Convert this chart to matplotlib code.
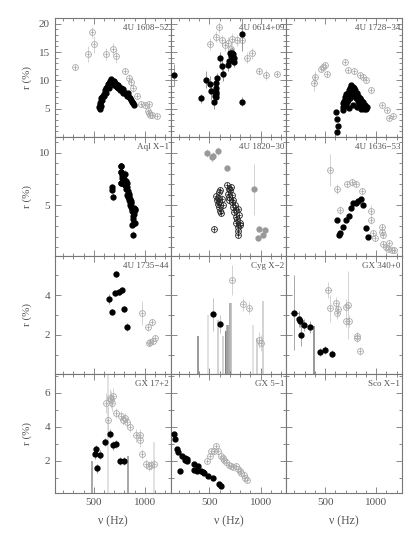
import numpy as np
import matplotlib
matplotlib.use("Agg")
import matplotlib.pyplot as plt
from matplotlib.ticker import MultipleLocator

plt.rcParams['font.family'] = ['Liberation Serif', 'DejaVu Serif']

names = ["4U 1608\u221252", "4U 0614+09", "4U 1728\u221234",
         "Aql X\u22121", "4U 1820\u221230", "4U 1636\u221253",
         "4U 1735\u221244", "Cyg X\u22122", "GX 340+0",
         "GX 17+2", "GX 5\u22121", "Sco X\u22121"]

# 4U 1608-52
f1608_x = [555, 560, 563, 565, 570, 572, 575, 580, 585, 590, 595, 600, 610, 615, 620, 630, 640, 645, 650, 660,
           670, 675, 680, 690, 695, 700, 710, 715, 720, 725, 735, 740, 750, 760, 765, 775, 785, 790, 800, 810,
           820, 830, 840, 850, 860, 870, 880, 890]
f1608_y = [5.2, 5.0, 5.6, 5.9, 6.3, 5.5, 6.8, 6.6, 7.0, 7.3, 7.2, 7.6, 8.2, 7.8, 8.7, 8.9, 9.3, 8.6, 9.6, 9.9,
           10.2, 9.7, 9.9, 9.5, 9.9, 9.2, 9.6, 9.0, 9.4, 8.8, 9.1, 8.6, 8.9, 8.3, 8.7, 8.1, 8.5, 7.8, 8.0, 7.6,
           7.3, 7.7, 7.0, 6.8, 6.5, 6.2, 5.9, 5.6]
o1608_x = [315, 478, 498, 445, 624, 683, 722, 806, 846, 862, 888, 924, 960, 999, 1035, 1032, 1040, 1050, 1070, 1116]
o1608_y = [12.3, 18.5, 16.35, 14.6, 14.65, 15.5, 14.3, 11.65, 10.35, 9.65, 8.65, 7.2, 5.8, 5.65, 5.8, 4.6, 4.2,
           3.9, 3.9, 3.7]
o1608_e = [0.4, 1.0, 1.5, 1.4, 1.0, 1.1, 1.2, 0.5, 0.8, 0.7, 0.7, 0.4, 0.4, 0.4, 0.6, 0.4, 0.3, 0.3, 0.3, 0.3]

# 4U 0614+09
f0614_x = [152, 413, 469, 501, 520, 543, 550, 562, 560, 565, 568, 568, 570, 605, 621, 635, 677, 690, 703, 712,
           718, 725, 732, 740, 736, 816, 820]
f0614_y = [10.94, 6.83, 10.06, 9.35, 8.1, 6.2, 7.3, 7.53, 7.06, 7.88, 8.59, 9.58, 10.35, 13.94, 12.6, 11.1, 12.7,
           13.5, 14.77, 14.3, 14.9, 14.2, 14.7, 13.9, 13.3, 18.18, 6.23]
f0614_e = [2.0, 0.8, 1.5, 1.5, 1.5, 1.3, 1.2, 1.0, 1.0, 1.0, 1.0, 1.0, 1.0, 1.0, 1.0, 1.2, 1.0, 1.0, 1.0, 1.0,
           1.0, 1.0, 1.0, 1.0, 1.0, 3.0, 0.8]
o0614_x = [508, 566, 598, 624, 652, 679, 720, 769, 816, 711, 865, 918, 989, 1054, 1161]
o0614_y = [16.4, 17.7, 19.35, 17.06, 16.24, 16.6, 17.3, 17.06, 17.2, 15.47, 14.0, 14.77, 11.65, 10.94, 11.1]
o0614_e = [1.0, 1.0, 1.0, 1.0, 1.0, 1.0, 1.0, 1.0, 1.0, 1.0, 1.0, 1.0, 0.6, 0.8, 0.4]

# 4U 1728-34
f1728_x = [607, 617, 630, 614, 672, 675, 680, 685, 690, 695, 700, 705, 708, 712, 715, 720, 725, 728, 732, 736,
           740, 745, 748, 752, 757, 760, 763, 767, 770, 774, 778, 782, 786, 790, 795, 800, 805, 810, 815, 820,
           825, 830, 835, 840, 845, 850, 855, 860, 866, 872, 878, 884, 890, 896, 902, 906, 730, 770, 810, 850]
f1728_y = [4.47, 3.1, 1.9, 0.94, 5.9, 5.2, 4.8, 6.3, 5.6, 7.0, 6.4, 5.5, 7.5, 6.9, 6.1, 7.8, 7.2, 6.5, 8.2, 7.6,
           6.8, 8.6, 7.9, 7.2, 9.2, 8.7, 8.1, 7.5, 8.9, 8.4, 7.7, 8.6, 7.9, 7.2, 8.2, 7.5, 6.9, 7.8, 7.0, 6.3,
           7.3, 6.7, 5.9, 6.9, 6.2, 5.5, 6.5, 5.8, 5.2, 6.1, 5.4, 5.0, 5.7, 5.1, 4.9, 5.3, 5.1, 5.6, 5.3, 4.9]
o1728_x = [387, 400, 462, 484, 498, 520, 693, 728, 787, 846, 875, 901, 947, 1054, 1103, 1129, 1162]
o1728_y = [9.58, 10.53, 12.0, 12.4, 12.76, 11.1, 13.3, 11.77, 11.6, 10.94, 10.53, 10.06, 8.3, 5.6, 4.77, 3.35, 3.7]
o1728_e = [1.4, 1.2, 0.5, 0.5, 0.5, 0.5, 0.4, 0.4, 0.4, 0.4, 0.4, 0.4, 0.4, 0.4, 0.4, 0.3, 0.3]

# Aql X-1
faql_x = [677, 677, 683, 764, 770, 764, 765, 768, 770, 775, 780, 783, 790, 795, 800, 805, 808, 812, 815, 820,
          825, 828, 832, 835, 840, 842, 848, 850, 855, 858, 862, 865, 868, 872, 876, 880, 884, 888, 892, 896,
          900, 905, 875, 885, 898, 880]
faql_y = [6.68, 6.42, 5.78, 8.75, 8.17, 7.12, 8.7, 8.2, 7.1, 7.6, 7.9, 7.3, 7.8, 7.0, 7.5, 8.0, 6.9, 7.3, 6.5, 7.1,
          6.7, 6.0, 6.3, 5.8, 6.1, 5.5, 5.9, 5.3, 5.6, 5.0, 5.4, 4.8, 5.2, 4.4, 4.6, 4.0, 4.5, 3.7, 4.2, 4.7,
          4.5, 4.6, 3.1, 3.2, 3.3, 2.2]

# 4U 1820-30
g1820_x = [478, 524, 535, 582, 673, 933, 989, 1021, 1045, 979]
g1820_y = [9.94, 9.55, 9.68, 10.16, 8.56, 6.49, 2.75, 2.18, 2.59, 1.86]
g1820_e = [0.4, 0.4, 0.4, 0.4, 0.3, 2.4, 0.3, 0.3, 0.3, 0.3]
k1820_x = [566, 576, 582, 592, 605, 615, 598, 608, 624, 582, 631, 598,
           670, 690, 703, 713, 680, 696, 722, 690, 716, 735, 729, 748, 745, 761, 777, 755, 771, 787,
           761, 794, 777, 784, 777, 800, 543]
k1820_y = [5.88, 5.46, 5.14, 4.82, 4.41, 4.25, 6.26, 6.42, 5.62, 5.69, 4.98, 5.30,
           6.90, 6.58, 6.42, 6.74, 6.10, 5.78, 5.94, 5.46, 5.30, 5.46, 4.82, 4.98, 4.34, 4.50, 4.66, 3.86,
           3.70, 4.02, 3.32, 3.32, 2.90, 2.58, 2.20, 3.13, 2.69]

# 4U 1636-53
f1636_x = [615, 635, 648, 673, 700, 729, 755, 772, 798, 817, 853, 875, 901, 924]
f1636_y = [3.62, 2.19, 2.35, 2.91, 3.62, 3.97, 4.77, 5.22, 5.16, 5.38, 5.57, 5.03, 2.81, 2.0]
o1636_x = [547, 618, 650, 712, 761, 806, 858, 952, 952, 973, 992, 1054, 1060, 1062, 1070, 1093, 1126, 1113, 1152, 1175]
o1636_y = [8.34, 6.55, 4.51, 7.0, 7.16, 7.0, 6.36, 4.48, 3.62, 2.37, 1.92, 2.91, 2.4, 2.15, 1.32, 1.06, 1.38, 0.84,
           0.74, 0.74]
o1636_e = [1.5, 0.5, 0.4, 0.3, 0.3, 0.3, 0.3, 0.5, 0.4, 0.3, 0.3, 0.3, 0.3, 0.3, 0.3, 0.2, 0.2, 0.2, 0.2, 0.2]

# 4U 1735-44
f1735_x = [722, 644, 677, 706, 748, 777, 800, 823]
f1735_y = [5.08, 3.82, 3.17, 4.1, 4.17, 4.27, 3.28, 2.37]
f1735_e = [0.15, 0.25, 0.15, 0.15, 0.15, 0.15, 0.15, 0.2]
o1735_x = [976, 1031, 1068, 1040, 1050, 1083, 1103]
o1735_y = [3.08, 2.37, 2.63, 1.58, 1.65, 1.67, 1.83]
o1735_e = [0.6, 0.2, 0.15, 0.15, 0.15, 0.15, 0.15]

# Cyg X-2
fcyg_x = [537, 605]
fcyg_y = [3.03, 2.53]
fcyg_e = [0.85, 0.45]
ocyg_x = [720, 827, 883, 985, 1008]
ocyg_y = [4.78, 3.53, 3.33, 1.75, 1.58]
ocyg_e = [0.75, 0.35, 0.3, 0.4, 0.4]
lcyg_x = [387, 490, 585, 634, 663, 673, 683, 697, 705, 713, 924, 963, 1022]
lcyg_y = [1.92, 3.0, 2.72, 1.92, 2.2, 2.5, 2.5, 3.6, 3.6, 3.6, 2.5, 1.83, 3.7]
lcyg_c = ['#888888', '#dddddd', '#cccccc', '#cccccc', '#666666', '#aaaaaa', '#999999',
          '#bbbbbb', '#aaaaaa', '#bbbbbb', '#dddddd', '#cccccc', '#cccccc']

# GX 340+0
f340_x = [201, 247, 257, 267, 299, 354, 455, 501, 569]
f340_y = [3.12, 2.78, 2.67, 1.97, 2.5, 2.38, 1.13, 1.25, 1.05]
f340_e = [1.9, 0.4, 0.3, 0.55, 0.3, 0.3, 0.2, 0.2, 0.2]
o340_x = [533, 553, 605, 625, 615, 706, 722, 700, 732, 810, 816, 843]
o340_y = [4.25, 3.33, 3.62, 3.3, 3.08, 3.42, 3.5, 2.7, 2.7, 1.95, 1.83, 1.17]
o340_e = [0.4, 0.7, 0.3, 0.3, 0.3, 0.4, 1.7, 0.3, 0.3, 0.2, 0.2, 0.2]
l340_x = [387]
l340_y = [2.42]
l340_c = ['#888888']

# GX 17+2
f17_x = [520, 510, 559, 533, 608, 657, 690, 715, 755, 797]
f17_y = [2.69, 2.38, 2.37, 1.56, 3.11, 3.6, 2.91, 3.0, 2.0, 2.0]
o17_x = [621, 641, 657, 665, 675, 686, 722, 764, 787, 806, 826, 852, 917, 950, 956, 976, 1015, 1037, 1063, 1089]
o17_y = [5.42, 4.39, 5.72, 5.62, 5.42, 5.82, 4.83, 4.63, 4.39, 4.53, 4.29, 4.0, 3.5, 3.5, 3.2, 2.4, 1.8, 1.7,
         1.76, 1.8]
o17_e = [0.6, 0.8, 0.5, 0.5, 0.5, 0.5, 0.3, 0.3, 0.3, 0.3, 0.3, 0.3, 0.4, 0.4, 0.4, 0.3, 0.3, 0.3, 0.3, 0.3]
l17_x = [478, 641, 830, 1085]
l17_y = [2.0, 7.1, 2.3, 3.1]
l17_c = ['#999999', '#dddddd', '#999999', '#dddddd']

# GX 5-1
f5_x = [152, 168, 182, 192, 215, 230, 257, 266, 279, 282, 354, 387, 354, 377, 420, 436, 446, 484, 533, 596, 618]
f5_y = [3.58, 3.3, 2.71, 2.5, 1.37, 2.31, 2.16, 2.06, 2.0, 2.12, 1.8, 1.72, 1.47, 1.37, 1.37, 1.33, 1.27, 1.11,
        0.97, 0.62, 0.52]
o5_x = [475, 508, 518, 540, 560, 583, 615, 631, 647, 664, 690, 713, 735, 755, 778, 794, 811, 833, 852, 866]
o5_y = [2.0, 2.3, 2.6, 2.6, 2.89, 2.6, 2.26, 2.16, 2.06, 1.92, 1.76, 1.72, 1.66, 1.72, 1.52, 1.4, 1.26, 1.16,
        0.96, 0.86]

row_ylim = [(0, 21), (0.2, 11.5), (0, 6), (0.1, 7.1)]
row_major = [5, 5, 2, 2]

GRAY = '#aaaaaa'
EGRAY = '#cccccc'
TXT = '#555555'


def filled(ax, x, y, e=0.2, c='k', ec='#888888'):
    ax.errorbar(x, y, yerr=e, fmt='o', color=c, mec=c, ecolor=ec, ms=3.5,
                elinewidth=0.6, capsize=0, zorder=4)


def opened(ax, x, y, e=0.2, c=GRAY, ec=EGRAY):
    ax.errorbar(x, y, yerr=e, fmt='o', mfc='none', mec=c, ecolor=ec, ms=4.2,
                mew=0.6, elinewidth=0.6, capsize=0, zorder=3)
    ax.plot(x, y, '+', color=c, ms=3.2, mew=0.5, zorder=3)


def lines(ax, x, top, cols, bottom):
    for xi, ti, ci in zip(x, top, cols):
        ax.vlines(xi, bottom, ti, color=ci, lw=1.2, zorder=1)


fig, axes = plt.subplots(4, 3, figsize=(4.19, 5.33), dpi=100, sharex=True)
fig.subplots_adjust(left=0.131, right=0.959, top=0.966, bottom=0.075, wspace=0, hspace=0)

for i, ax in enumerate(axes.flat):
    r, c = divmod(i, 3)
    ax.set_xlim(120, 1250)
    ax.set_ylim(*row_ylim[r])
    ax.xaxis.set_major_locator(MultipleLocator(500))
    ax.xaxis.set_minor_locator(MultipleLocator(100))
    ax.yaxis.set_major_locator(MultipleLocator(row_major[r]))
    ax.yaxis.set_minor_locator(MultipleLocator(1))
    ax.tick_params(which='both', direction='in', top=True, right=True,
                   color='#777777', labelsize=8, labelcolor=TXT, width=0.6)
    ax.tick_params(which='major', length=4)
    ax.tick_params(which='minor', length=2)
    for s in ax.spines.values():
        s.set_color('#777777')
        s.set_linewidth(0.8)
    if c != 0:
        ax.tick_params(labelleft=False)
    ax.text(0.985, 0.915, names[i], transform=ax.transAxes, ha='right', va='center',
            fontsize=6.5, color=TXT)
    if r == 3:
        ax.set_xticks([500, 1000])

axes[0, 0].set_yticks([5, 10, 15, 20])
axes[1, 0].set_yticks([5, 10])
axes[2, 0].set_yticks([2, 4])
axes[3, 0].set_yticks([2, 4, 6])

ax = axes[0, 0]
opened(ax, o1608_x, o1608_y, o1608_e)
filled(ax, f1608_x, f1608_y, 0.3)

ax = axes[0, 1]
opened(ax, o0614_x, o0614_y, o0614_e)
filled(ax, f0614_x, f0614_y, f0614_e)

ax = axes[0, 2]
opened(ax, o1728_x, o1728_y, o1728_e)
filled(ax, f1728_x, f1728_y, 0.3)

ax = axes[1, 0]
filled(ax, faql_x, faql_y, 0.3)

ax = axes[1, 1]
filled(ax, g1820_x, g1820_y, g1820_e, c='#999999', ec='#cccccc')
opened(ax, k1820_x, k1820_y, 0.3, c='#222222', ec='#999999')

ax = axes[1, 2]
opened(ax, o1636_x, o1636_y, o1636_e)
filled(ax, f1636_x, f1636_y, 0.2)

ax = axes[2, 0]
opened(ax, o1735_x, o1735_y, o1735_e)
filled(ax, f1735_x, f1735_y, f1735_e)

ax = axes[2, 1]
lines(ax, lcyg_x, lcyg_y, lcyg_c, 0)
opened(ax, ocyg_x, ocyg_y, ocyg_e)
filled(ax, fcyg_x, fcyg_y, fcyg_e, ec='#bbbbbb')

ax = axes[2, 2]
lines(ax, l340_x, l340_y, l340_c, 0)
opened(ax, o340_x, o340_y, o340_e)
filled(ax, f340_x, f340_y, f340_e, ec='#999999')
ax.errorbar(f340_x[0], f340_y[0], xerr=46, fmt='none', ecolor='#888888', elinewidth=0.6)
ax.errorbar(o340_x[0], o340_y[0], xerr=33, fmt='none', ecolor=EGRAY, elinewidth=0.6)

ax = axes[3, 0]
lines(ax, l17_x, l17_y, l17_c, 0.1)
opened(ax, o17_x, o17_y, o17_e)
filled(ax, f17_x, f17_y, 0.25)

ax = axes[3, 1]
opened(ax, o5_x, o5_y, 0.12)
filled(ax, f5_x, f5_y, 0.08)

for r in range(4):
    y0, y1 = axes[r, 0].get_position().y0, axes[r, 0].get_position().y1
    fig.text(0.064, (y0 + y1) / 2, "r (%)", rotation=90, ha='center', va='center',
             fontsize=8, color=TXT)
for c in range(3):
    x0, x1 = axes[3, c].get_position().x0, axes[3, c].get_position().x1
    fig.text((x0 + x1) / 2, 0.022, "\u03bd (Hz)", ha='center', va='center',
             fontsize=8.5, color=TXT)

fig.savefig("out.png", dpi=100)
